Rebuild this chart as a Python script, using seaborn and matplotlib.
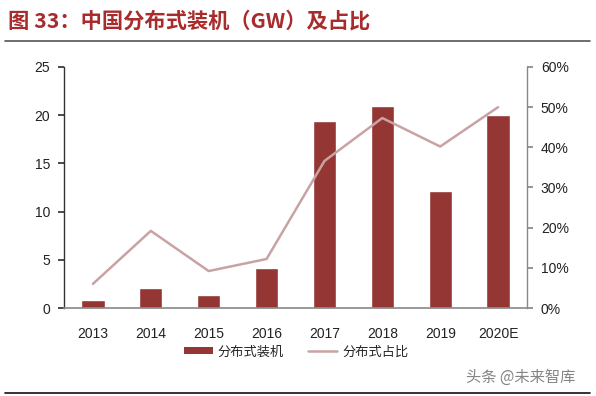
import matplotlib
matplotlib.use("Agg")
import matplotlib.pyplot as plt
import seaborn as sns
import pandas as pd
from matplotlib.lines import Line2D
from matplotlib.patches import Patch

years = ["2013", "2014", "2015", "2016", "2017", "2018", "2019", "2020E"]
capacity_gw = [0.8, 2.1, 1.35, 4.2, 19.4, 21.0, 12.1, 20.0]
share_pct = [6.0, 19.2, 9.2, 12.2, 36.6, 47.3, 40.2, 50.0]
left_ticks = [0, 5, 10, 15, 20, 25]
right_ticks = [0, 10, 20, 30, 40, 50, 60]

sns.set_theme(style="white")
plt.rcParams['font.family'] = ['Noto Sans CJK SC', 'DejaVu Sans']

df = pd.DataFrame({"year": years, "cap": capacity_gw, "share": share_pct})

bar_color = "#943634"
line_color = "#C9A3A3"

fig = plt.figure(figsize=(5.96, 3.96), dpi=100)
ax = fig.add_axes([64/596, 1-308/396, (527-64)/596, (308-67)/396])

sns.barplot(data=df, x="year", y="cap", color=bar_color, width=0.4, ax=ax,
            saturation=1)
ax.set_ylim(0, 25)
ax.set_yticks(left_ticks)
ax.set_xlim(-0.5, len(years) - 0.5)
ax.set_xlabel("")
ax.set_ylabel("")

ax2 = ax.twinx()
sns.lineplot(x=list(range(len(years))), y=share_pct, color=line_color, linewidth=1.8, ax=ax2)
ax2.set_ylim(0, 60)
ax2.set_yticks(right_ticks)
ax2.set_yticklabels([f"{v}%" for v in right_ticks])
ax2.set_xlim(-0.5, len(years) - 0.5)

for a in (ax, ax2):
    a.spines["top"].set_visible(False)
ax.spines["right"].set_visible(False)
ax.spines["left"].set_color("#333333")
ax.spines["left"].set_linewidth(1.0)
ax.spines["bottom"].set_color("#888888")
ax.spines["bottom"].set_linewidth(1.2)
ax2.spines["left"].set_visible(False)
ax2.spines["bottom"].set_visible(False)
ax2.spines["right"].set_color("#888888")
ax2.spines["right"].set_linewidth(1.0)

ax.tick_params(axis="y", which="both", left=True, length=4, color="#333333",
               labelsize=10, labelcolor="#222222", pad=6)
ax.tick_params(axis="x", bottom=False, labelsize=10, labelcolor="#222222", pad=8)
ax2.tick_params(axis="y", right=True, length=4, color="#888888",
                labelsize=10, labelcolor="#222222", pad=6)
for lab in ax.get_xticklabels() + ax.get_yticklabels() + ax2.get_yticklabels():
    lab.set_family("Liberation Sans")

# Title
fig.text(8/596, 1-21/396, "图 33：中国分布式装机（GW）及占比", color="#A82C2C",
         fontsize=15.3, fontweight="bold", va="center", ha="left")
fig.add_artist(Line2D([5/596, 590/596], [1-41/396, 1-41/396], color="#555555", lw=1.2))

# Legend
handles = [Patch(facecolor=bar_color, edgecolor="none", label="分布式装机"),
           Line2D([0], [0], color=line_color, lw=1.8, label="分布式占比")]
fig.legend(handles=handles, loc="center", bbox_to_anchor=(296/596, 1-352/396),
           ncol=2, frameon=False, fontsize=9.5, handlelength=2.2, handleheight=0.45,
           columnspacing=1.8, handletextpad=0.4)

# watermark
fig.text(575/596, 1-377/396, "头条 @未来智库", color="#666666", fontsize=11,
         ha="right", va="center", alpha=0.8)
fig.add_artist(Line2D([5/596, 590/596], [1-393/396, 1-393/396], color="#111111", lw=1.2))

fig.savefig("out.png", dpi=100)
